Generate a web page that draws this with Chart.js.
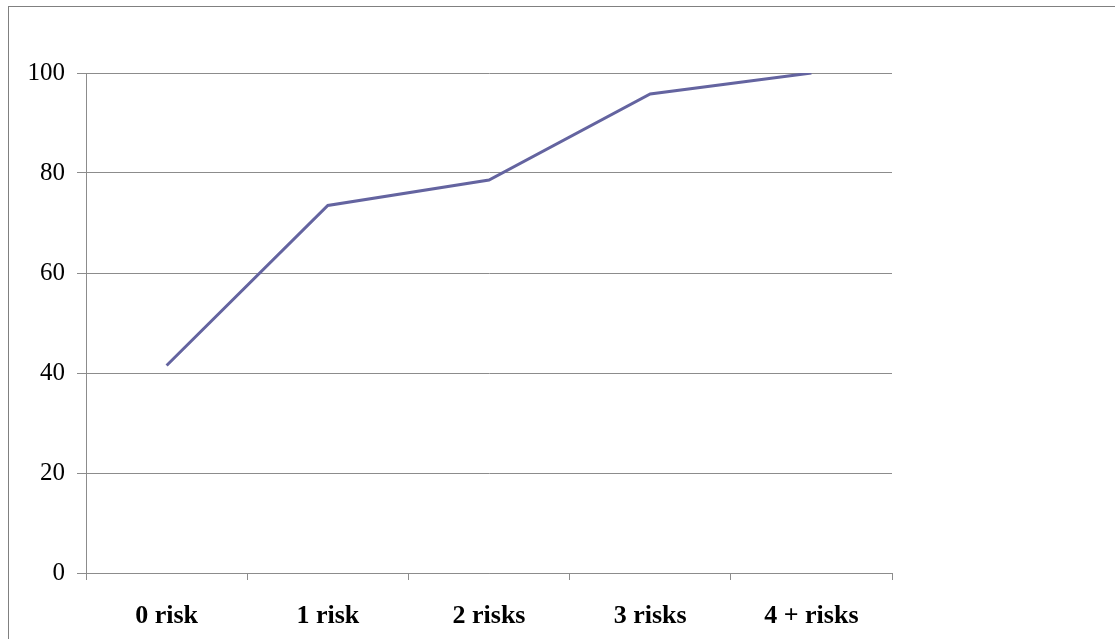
<!DOCTYPE html>
<html>
<head>
<meta charset="utf-8">
<script src="https://cdn.jsdelivr.net/npm/chart.js@4/dist/chart.umd.min.js"></script>
<style>
  html, body { margin: 0; padding: 0; background: #ffffff; }
  #wrap { width: 1115px; height: 639px; position: relative; }
</style>
</head>
<body>
<div id="wrap"><canvas id="c" width="1115" height="639"></canvas></div>
<script>
// Risk-factor groups along the horizontal axis
const categories = ['0 risk', '1 risk', '2 risks', '3 risks', '4 + risks'];
// Cumulative percentage for each group
const values = [41.5, 73.5, 78.6, 95.8, 100];
// Vertical axis ticks
const yTicks = [0, 20, 40, 60, 80, 100];

const gridGray = '#8c8c8c';
const serif = '"Liberation Serif", "Times New Roman", serif';

// Outer frame around the whole chart
const framePlugin = {
  id: 'frame',
  beforeDraw(chart) {
    const ctx = chart.ctx;
    ctx.save();
    ctx.fillStyle = '#ffffff';
    ctx.fillRect(0, 0, chart.width, chart.height);
    ctx.strokeStyle = '#808080';
    ctx.lineWidth = 1;
    ctx.strokeRect(8.5, 6.5, chart.width + 10, chart.height + 10);
    ctx.restore();
  }
};

new Chart(document.getElementById('c'), {
  type: 'line',
  data: {
    labels: categories,
    datasets: [{
      data: values,
      borderColor: '#6464a0',
      borderWidth: 3,
      pointRadius: 0,
      tension: 0,
      fill: false
    }]
  },
  options: {
    responsive: false,
    animation: false,
    devicePixelRatio: 1,
    layout: { padding: { top: 73, right: 223, left: 0, bottom: 0 } },
    plugins: { legend: { display: false }, tooltip: { enabled: false } },
    scales: {
      x: {
        type: 'category',
        offset: true,
        grid: {
          offset: true,
          drawOnChartArea: false,
          drawTicks: true,
          tickLength: 7,
          color: gridGray,
          lineWidth: 1
        },
        border: { display: true, color: gridGray, width: 1 },
        ticks: {
          color: '#000000',
          font: { family: serif, size: 26, weight: 'bold' },
          padding: 21,
          maxRotation: 0
        },
        afterFit(scale) { scale.height = 66; }
      },
      y: {
        min: 0,
        max: 100,
        afterBuildTicks(scale) { scale.ticks = yTicks.map(v => ({ value: v })); },
        grid: {
          color: gridGray,
          lineWidth: 1,
          drawTicks: true,
          tickLength: 9
        },
        border: { display: true, color: gridGray, width: 1 },
        ticks: {
          color: '#000000',
          font: { family: serif, size: 25 },
          padding: 12
        },
        afterFit(scale) { scale.width = 86; }
      }
    }
  },
  plugins: [framePlugin]
});
</script>
</body>
</html>
